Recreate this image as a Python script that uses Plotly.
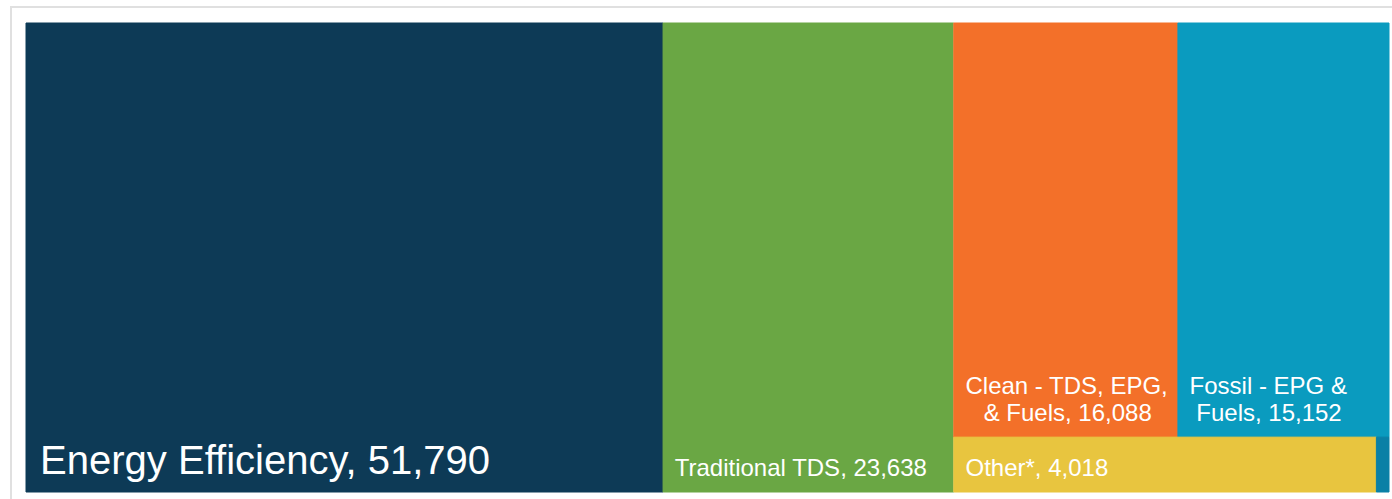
import plotly.graph_objects as go

# Leaf data
categories = ["Energy Efficiency", "Traditional TDS", "Clean - TDS, EPG, & Fuels",
              "Fossil - EPG & Fuels", "Other*", "Small remainder"]
values = [51790, 23638, 16088, 15152, 4018, 120]
label_lines = [["Energy Efficiency, 51,790"], ["Traditional TDS, 23,638"],
               ["Clean - TDS, EPG,", "& Fuels, 16,088"], ["Fossil - EPG &", "Fuels, 15,152"],
               ["Other*, 4,018"], []]
colors = ["#0d3a56", "#6aa744", "#f37029", "#0a9bbf", "#e8c53f", "#0a80a6"]
font_sizes = [40, 24, 24, 24, 24, 12]

NB = "\u00a0"
HAIR = "\u200a"
THIN = "\u2009"
BASE = 6.92  # base font: 1.3 * BASE ~= 9 px per line step


def build_label(lines, size, indents):
    if not lines:
        return ""
    parts = []
    for i, (line, ind) in enumerate(zip(lines, indents)):
        if i > 0:
            parts.append("<br>" + NB + "<br>" + NB + "<br>")
        parts.append(f"<span style='font-size:{size}px'>{ind}{line}</span>")
    pad = 26 if size > 30 else 18
    parts.append(f"<br><span style='font-size:{pad}px'>{NB}</span>")
    return "".join(parts)


indent_sets = [[NB], [NB + HAIR], [NB + HAIR, NB + HAIR + NB + NB + THIN],
               [NB + HAIR, NB + HAIR + NB], [NB + HAIR], []]
label_text = [build_label(l, s, ind) for l, s, ind in zip(label_lines, font_sizes, indent_sets)]

# Hierarchy: root -> EE, TDS, group; group -> top row, bottom row
leaf_parents = ["root", "root", "top", "top", "bottom", "bottom"]
group_ids = ["root", "group", "top", "bottom"]
group_parents = ["", "root", "group", "group"]

ids = group_ids[:1] + categories[:2] + group_ids[1:] + categories[2:]
parents = group_parents[:1] + leaf_parents[:2] + group_parents[1:] + leaf_parents[2:]
vals = [0] + values[:2] + [0, 0, 0] + values[2:]
texts = [""] + label_text[:2] + ["", "", ""] + label_text[2:]
cols = ["#ffffff"] + colors[:2] + ["#ffffff"] * 3 + colors[2:]
line_cols = ["rgba(0,0,0,0)"] + colors[:2] + ["rgba(0,0,0,0)"] * 3 + colors[2:]

fig = go.Figure(go.Treemap(
    ids=ids,
    labels=ids,
    parents=parents,
    values=vals,
    branchvalues="remainder",
    sort=False,
    text=texts,
    textinfo="text",
    texttemplate="%{text}",
    textposition="bottom left",
    textfont=dict(family="Liberation Sans, Arial, sans-serif", color="white", size=BASE),
    marker=dict(colors=cols, line=dict(width=1, color=line_cols),
                pad=dict(t=0, l=0, r=0, b=0)),
    tiling=dict(packing="slice-dice", pad=0),
    pathbar=dict(visible=False),
    hoverinfo="skip",
))

fig.update_layout(
    width=1392, height=499,
    margin=dict(l=26, r=3, t=23, b=7),
    paper_bgcolor="white",
    showlegend=False,
    uniformtext=dict(mode=False),
    shapes=[dict(type="rect", xref="paper", yref="paper",
                 x0=-0.011, x1=1.05, y0=-0.1, y1=1.0341,
                 line=dict(color="#e0e0e0", width=2), layer="below")],
)

fig.write_html("out.html", config={"displayModeBar": False},
               post_script="document.body.style.margin='0';document.body.style.overflow='hidden';")
